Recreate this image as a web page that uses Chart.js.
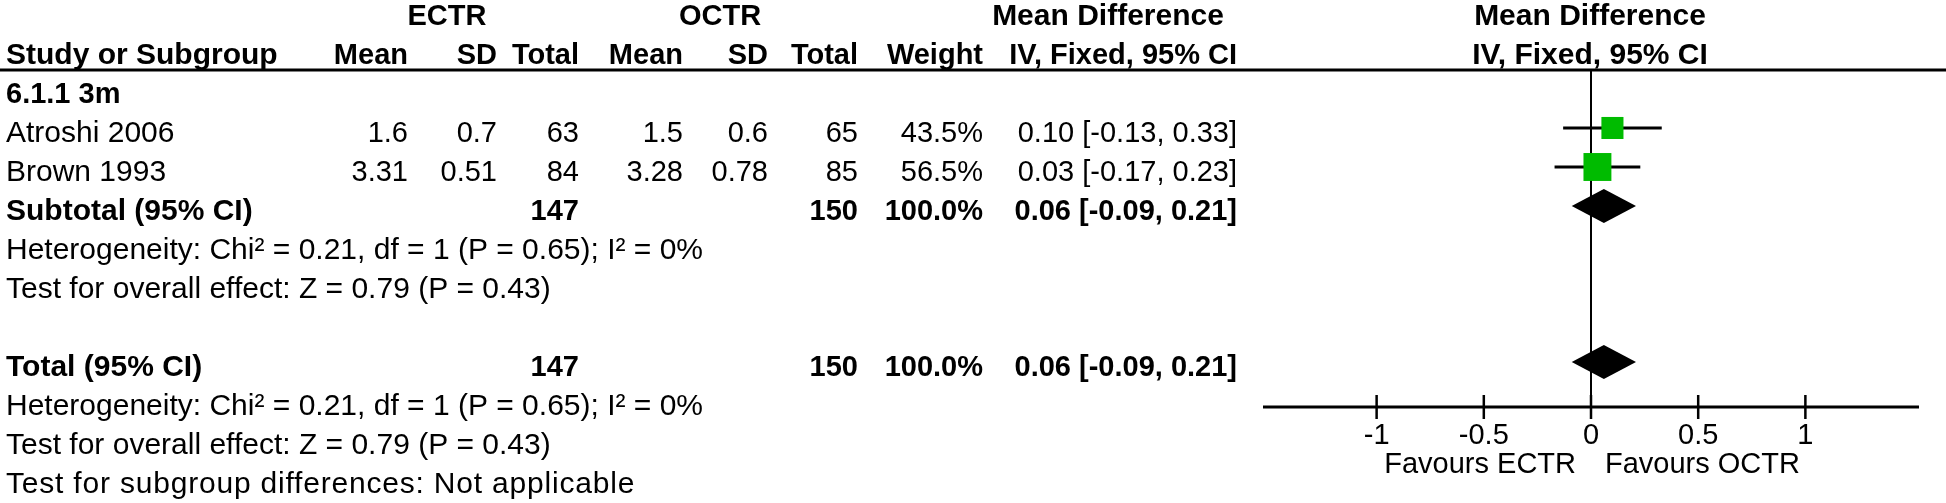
<!DOCTYPE html>
<html>
<head>
<meta charset="utf-8">
<script src="https://cdn.jsdelivr.net/npm/chart.js@4.4.0/dist/chart.umd.min.js"></script>
<style>
  html, body { margin: 0; padding: 0; background: #fff; }
  #wrap { width: 1946px; height: 503px; position: relative; }
</style>
</head>
<body>
<div id="wrap"><canvas id="forest"></canvas></div>
<script>
// Study level data
const studies = ['Atroshi 2006', 'Brown 1993'];
const ectrMean = [1.6, 3.31];
const ectrSD = [0.7, 0.51];
const ectrN = [63, 84];
const octrMean = [1.5, 3.28];
const octrSD = [0.6, 0.78];
const octrN = [65, 85];
const weights = [43.5, 56.5];
const meanDiff = [0.10, 0.03];
const ciLow = [-0.13, -0.17];
const ciHigh = [0.33, 0.23];

// Pooled estimates: subtotal and total
const pooledLabels = ['Subtotal (95% CI)', 'Total (95% CI)'];
const pooledEctrN = [147, 147];
const pooledOctrN = [150, 150];
const pooledWeight = [100.0, 100.0];
const pooledMD = [0.06, 0.06];
const pooledLow = [-0.09, -0.09];
const pooledHigh = [0.21, 0.21];

const xTicks = [-1, -0.5, 0, 0.5, 1];
const favourLabels = ['Favours ECTR', 'Favours OCTR'];

const hetText = 'Heterogeneity: Chi\u00b2 = 0.21, df = 1 (P = 0.65); I\u00b2 = 0%';
const effectText = 'Test for overall effect: Z = 0.79 (P = 0.43)';
const subgroupText = 'Test for subgroup differences: Not applicable';

// row index of each line of the table (one row = one line of text)
const studyRows = [1, 2];
const pooledRows = [3, 7];

const FONT = '"Liberation Sans", Arial, sans-serif';
const fmt2 = v => v.toFixed(2);
const ciStr = (m, l, h) => `${fmt2(m)} [${fmt2(l)}, ${fmt2(h)}]`;

// right edges of the numeric columns
const col = {
    left: 6, ectrMean: 408, ectrSD: 497, ectrN: 579,
    octrMean: 683, octrSD: 768, octrN: 858, weight: 983, ci: 1237
};

const tablePlugin = {
    id: 'forestTable',
    beforeDatasetsDraw(chart) {
        const { ctx, chartArea, scales } = chart;
        // line of no effect
        const x0 = scales.x.getPixelForValue(0);
        ctx.save();
        ctx.strokeStyle = '#000';
        ctx.lineWidth = 2;
        ctx.beginPath();
        ctx.moveTo(x0, chartArea.top);
        ctx.lineTo(x0, chartArea.bottom);
        ctx.stroke();
        ctx.restore();
    },
    afterDatasetsDraw(chart) {
        const { ctx, chartArea, scales } = chart;
        const xs = scales.x, ys = scales.y;

        // diamonds for the pooled estimates
        ctx.save();
        ctx.fillStyle = '#000';
        pooledRows.forEach((r, i) => {
            const y = ys.getPixelForValue(r);
            ctx.beginPath();
            ctx.moveTo(xs.getPixelForValue(pooledLow[i]), y);
            ctx.lineTo(xs.getPixelForValue(pooledMD[i]), y - 17);
            ctx.lineTo(xs.getPixelForValue(pooledHigh[i]), y);
            ctx.lineTo(xs.getPixelForValue(pooledMD[i]), y + 17);
            ctx.closePath();
            ctx.fill();
        });

        // header underline across the whole figure
        ctx.strokeStyle = '#000';
        ctx.lineWidth = 3;
        ctx.beginPath();
        ctx.moveTo(0, chartArea.top);
        ctx.lineTo(chart.width, chartArea.top);
        ctx.stroke();

        // x axis with ticks crossing it
        const yAxis = chartArea.bottom;
        ctx.beginPath();
        ctx.moveTo(chartArea.left, yAxis);
        ctx.lineTo(chartArea.right, yAxis);
        ctx.stroke();
        ctx.lineWidth = 2.5;
        xTicks.forEach(t => {
            const x = xs.getPixelForValue(t);
            ctx.beginPath();
            ctx.moveTo(x, yAxis - 12);
            ctx.lineTo(x, yAxis + 12);
            ctx.stroke();
        });

        ctx.textBaseline = 'alphabetic';
        const txt = (s, x, y, align, bold, size) => {
            ctx.font = `${bold ? 'bold ' : ''}${size || 29}px ${FONT}`;
            ctx.textAlign = align;
            ctx.fillText(s, x, y);
        };
        xTicks.forEach(t => txt(String(t), xs.getPixelForValue(t), yAxis + 37, 'center', false));
        const xz = xs.getPixelForValue(0);
        txt(favourLabels[0], xz - 15, yAxis + 66, 'right', false);
        txt(favourLabels[1], xz + 14, yAxis + 66, 'left', false);

        // table text, baseline a little below each row centre
        const base = r => ys.getPixelForValue(r) + 14;

        txt('ECTR', 447, base(-2), 'center', true);
        txt('OCTR', 720, base(-2), 'center', true);
        txt('Mean Difference', 1108, base(-2), 'center', true, 30);
        txt('Mean Difference', xz - 1, base(-2), 'center', true, 30);

        txt('Study or Subgroup', col.left, base(-1), 'left', true, 30);
        txt('Mean', col.ectrMean, base(-1), 'right', true);
        txt('SD', col.ectrSD, base(-1), 'right', true);
        txt('Total', col.ectrN, base(-1), 'right', true);
        txt('Mean', col.octrMean, base(-1), 'right', true);
        txt('SD', col.octrSD, base(-1), 'right', true);
        txt('Total', col.octrN, base(-1), 'right', true);
        txt('Weight', col.weight, base(-1), 'right', true);
        txt('IV, Fixed, 95% CI', col.ci, base(-1), 'right', true);
        txt('IV, Fixed, 95% CI', xz - 1, base(-1), 'center', true, 30);

        txt('6.1.1 3m', col.left, base(0), 'left', true);

        studies.forEach((s, i) => {
            const y = base(studyRows[i]);
            txt(s, col.left, y, 'left', false, 30);
            txt(String(ectrMean[i]), col.ectrMean, y, 'right', false);
            txt(String(ectrSD[i]), col.ectrSD, y, 'right', false);
            txt(String(ectrN[i]), col.ectrN, y, 'right', false);
            txt(String(octrMean[i]), col.octrMean, y, 'right', false);
            txt(String(octrSD[i]), col.octrSD, y, 'right', false);
            txt(String(octrN[i]), col.octrN, y, 'right', false);
            txt(weights[i].toFixed(1) + '%', col.weight, y, 'right', false);
            txt(ciStr(meanDiff[i], ciLow[i], ciHigh[i]), col.ci, y, 'right', false);
        });

        pooledLabels.forEach((s, i) => {
            const r = pooledRows[i];
            const y = base(r);
            txt(s, col.left, y, 'left', true, 30);
            txt(String(pooledEctrN[i]), col.ectrN, y, 'right', true);
            txt(String(pooledOctrN[i]), col.octrN, y, 'right', true);
            txt(pooledWeight[i].toFixed(1) + '%', col.weight, y, 'right', true);
            txt(ciStr(pooledMD[i], pooledLow[i], pooledHigh[i]), col.ci, y, 'right', true);
            txt(hetText, col.left, base(r + 1), 'left', false, 30);
            txt(effectText, col.left, base(r + 2), 'left', false, 30);
        });
        // this line is set a little looser in the original
        ctx.letterSpacing = '0.8px';
        txt(subgroupText, col.left, base(10), 'left', false, 30);
        ctx.letterSpacing = '0px';
        ctx.restore();
    }
};

// CI whiskers, one small line dataset per study
const whiskers = studies.map((s, i) => ({
    label: s + ' CI',
    data: [{ x: ciLow[i], y: studyRows[i] }, { x: ciHigh[i], y: studyRows[i] }],
    showLine: true,
    borderColor: '#000',
    borderWidth: 3,
    pointRadius: 0,
    order: 1
}));

new Chart(document.getElementById('forest'), {
    type: 'scatter',
    data: {
        datasets: [
            {
                label: 'Mean difference',
                data: studies.map((s, i) => ({ x: meanDiff[i], y: studyRows[i] })),
                pointStyle: 'rect',
                // square side grows with study weight
                pointRadius: weights.map(w => (w * 0.45 + 2.5) / Math.SQRT2),
                backgroundColor: '#00bb00',
                borderWidth: 0,
                order: 0
            },
            ...whiskers
        ]
    },
    options: {
        responsive: true,
        maintainAspectRatio: false,
        animation: false,
        layout: { padding: { left: 1263, right: 27, top: 70, bottom: 96 } },
        plugins: { legend: { display: false }, tooltip: { enabled: false } },
        scales: {
            x: { type: 'linear', min: -1.53, max: 1.53, display: false },
            y: { type: 'linear', min: -0.487, max: 8.154, reverse: true, display: false }
        }
    },
    plugins: [tablePlugin]
});
</script>
</body>
</html>
